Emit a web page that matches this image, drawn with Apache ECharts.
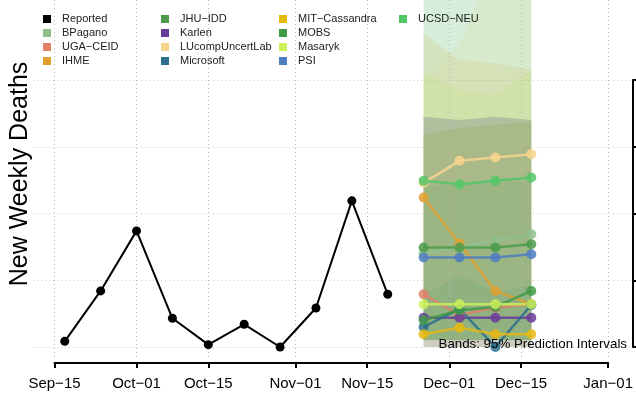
<!DOCTYPE html>
<html>
<head>
<meta charset="utf-8">
<script src="https://cdn.jsdelivr.net/npm/echarts@6/dist/echarts.min.js"></script>
<style>html,body{margin:0;padding:0;background:#fff;}#c{width:636px;height:398px;}</style>
</head>
<body>
<div id="c"></div>
<script>
// ---------- data ----------
const tickDates = ['2020-09-15','2020-10-01','2020-10-15','2020-11-01','2020-11-15','2020-12-01','2020-12-15','2021-01-01'];
const tickLabels = ['Sep\u221215','Oct\u221201','Oct\u221215','Nov\u221201','Nov\u221215','Dec\u221201','Dec\u221215','Jan\u221201'];
const yTicks = [0, 10, 20, 30, 40];

const reportedDates = ['2020-09-17','2020-09-24','2020-10-01','2020-10-08','2020-10-15','2020-10-22','2020-10-29','2020-11-05','2020-11-12','2020-11-19'];
const reportedValues = [0.85, 8.4, 17.4, 4.3, 0.35, 3.4, 0, 5.85, 21.9, 7.9];

const forecastDates = ['2020-11-26','2020-12-03','2020-12-10','2020-12-17'];

const modelNames = ['BPagano','UGA\u2212CEID','IHME','JHU\u2212IDD','Karlen','LUcompUncertLab','Microsoft','MIT\u2212Cassandra','MOBS','Masaryk','PSI','UCSD\u2212NEU'];
const modelColors = ['#8fbf8f','#df806a','#e0a030','#4b9b4b','#6a3d9a','#f7d58e','#2b6f8c','#e6b812','#3f9b48','#cbf058','#4f7cc2','#52c768'];

// point forecasts
const bpagano   = [14.0, 15.0, 15.9, 16.9];
const ugaCeid   = [7.9, 4.8, 5.9, 6.4];
const ihme      = [22.4, 15.5, 8.4, 6.4];
const jhuIdd    = [14.9, 14.9, 14.9, 15.4];
const karlen    = [4.4, 4.4, 4.4, 4.4];
const lucomp    = [24.6, 27.9, 28.4, 28.9];
const microsoft = [3.0, 5.7, 0, 6.3];
const mitCass   = [1.9, 2.9, 1.9, 1.9];
const mobs      = [4.0, 5.5, 6.0, 8.4];
const masaryk   = [6.4, 6.4, 6.4, 6.4];
const psi       = [13.4, 13.4, 13.4, 13.9];
const ucsdNeu   = [24.9, 24.4, 24.9, 25.4];

// 95% prediction interval lower / upper bounds
const bpaganoLo   = [1.05, 1.05, 1.05, 1.05], bpaganoHi   = [58, 58, 60, 60];
const ugaCeidLo   = [1.05, 1.05, 1.05, 1.05], ugaCeidHi   = [34.5, 34, 34.5, 34];
const ihmeLo      = [1.05, 1.05, 1.05, 1.05], ihmeHi      = [47, 43, 42.5, 41.5];
const jhuIddLo    = [1.05, 1.05, 1.05, 1.05], jhuIddHi    = [31.8, 32.8, 33.3, 33.7];
const karlenLo    = [0, 0, 0, 0],             karlenHi    = [34.5, 34, 34.5, 34];
const lucompLo    = [1.05, 1.05, 1.05, 1.05], lucompHi    = [40, 45.5, 58, 65];
const microsoftLo = [0, 0, 0, 0],             microsoftHi = [7.8, 10.8, 8.2, 9.3];
const mitCassLo   = [0, 0, 0, 0],             mitCassHi   = [31.8, 32.8, 33.3, 33.7];
const mobsLo      = [1.05, 1.05, 1.05, 1.05], mobsHi      = [24, 24.6, 24.6, 25];
const masarykLo   = [1.05, 1.05, 1.05, 1.05], masarykHi   = [41.2, 38.5, 37.8, 41.5];
const psiLo       = [1.05, 1.05, 1.05, 1.05], psiHi       = [34.5, 34, 34.5, 34];
const ucsdNeuLo   = [1.05, 1.05, 1.05, 1.05], ucsdNeuHi   = [70, 70, 70, 70];

const points = [bpagano, ugaCeid, ihme, jhuIdd, karlen, lucomp, microsoft, mitCass, mobs, masaryk, psi, ucsdNeu];
const lows   = [bpaganoLo, ugaCeidLo, ihmeLo, jhuIddLo, karlenLo, lucompLo, microsoftLo, mitCassLo, mobsLo, masarykLo, psiLo, ucsdNeuLo];
const highs  = [bpaganoHi, ugaCeidHi, ihmeHi, jhuIddHi, karlenHi, lucompHi, microsoftHi, mitCassHi, mobsHi, masarykHi, psiHi, ucsdNeuHi];

const legendColumns = [
  ['Reported','BPagano','UGA\u2212CEID','IHME'],
  ['JHU\u2212IDD','Karlen','LUcompUncertLab','Microsoft'],
  ['MIT\u2212Cassandra','MOBS','Masaryk','PSI'],
  ['UCSD\u2212NEU']
];

// ---------- build ----------
const FONT = 'Liberation Sans, Arial, Helvetica, sans-serif';
const ts = (d) => Date.parse(d + 'T00:00:00Z');
const colorOf = {'Reported':'#000000'};
modelNames.forEach((n,i)=>colorOf[n]=modelColors[i]);
const tickTs = tickDates.map(ts);

const series = [];
// bands (polygon through library coordinates)
modelNames.forEach((n,i)=>{
  series.push({
    name: n+' band', type:'custom', xAxisIndex:0, yAxisIndex:0, z:1, silent:true,
    data: forecastDates.map((d,k)=>[ts(d), lows[i][k], highs[i][k]]),
    encode:{x:0, y:[1,2]},
    renderItem:(params, api)=>{
      if (params.dataIndex !== 0) return null;
      const top = [], bot = [];
      forecastDates.forEach((d,k)=>{
        top.push(api.coord([ts(d), highs[i][k]]));
        bot.push(api.coord([ts(d), lows[i][k]]));
      });
      const cs = params.coordSys;
      return {
        type:'polygon',
        shape:{points: top.concat(bot.reverse())},
        style:{fill: modelColors[i], opacity:0.15},
        clipPath:{type:'rect', shape:{x:cs.x, y:cs.y, width:cs.width, height:cs.height}}
      };
    }
  });
});
// reported
series.push({
  name:'Reported', type:'line', xAxisIndex:0, yAxisIndex:0,
  data: reportedDates.map((d,k)=>[ts(d), reportedValues[k]]),
  symbol:'circle', symbolSize:9, itemStyle:{color:'#000'}, lineStyle:{color:'#000', width:2}, z:5
});
// forecast lines
modelNames.forEach((n,i)=>{
  series.push({
    name:n, type:'line', xAxisIndex:0, yAxisIndex:0,
    data: forecastDates.map((d,k)=>[ts(d), points[i][k]]),
    symbol:'circle', symbolSize:10,
    itemStyle:{color:modelColors[i], opacity:0.85},
    lineStyle:{color:modelColors[i], width:2.5, opacity:0.85}, z:5
  });
});

const legends = legendColumns.map((col,ci)=>({
  orient:'vertical', left:[43,161,279,399][ci], top:12, padding:0,
  icon:'rect', itemWidth:8, itemHeight:8, itemGap:0,
  textStyle:{fontSize:11, color:'#222', fontFamily:FONT, lineHeight:14, padding:[0,0,0,6]},
  data: col.map(n=>({name:n, itemStyle:{color:colorOf[n], opacity:1}})),
  selectedMode:false
}));

const option = {
  animation:false,
  backgroundColor:'#fff',
  grid:[
    {left:54.5, right:24.2, top:0, bottom:41, containLabel:false},
    {left:33, right:3, top:80, height:267, containLabel:false}
  ],
  xAxis:[
    {type:'value', gridIndex:0, min:tickTs[0], max:tickTs[tickTs.length-1], offset:6, z:3,
     axisLine:{show:true, onZero:false, lineStyle:{color:'#000', width:2}},
     axisTick:{show:true, length:5, lineStyle:{color:'#000', width:2}, customValues:tickTs},
     axisLabel:{show:true, customValues:tickTs, margin:13, fontSize:15, color:'#000', fontFamily:FONT,
       formatter:(v)=>{ let best=0; tickTs.forEach((t,i)=>{ if(Math.abs(t-v)<Math.abs(tickTs[best]-v)) best=i; }); return tickLabels[best]; }},
     splitLine:{show:true, lineStyle:{color:'#b8b8b8', type:[1,3], width:1}}},
    {type:'value', gridIndex:1, min:0, max:1, show:false}
  ],
  yAxis:[
    {type:'value', gridIndex:0, min:-1.5, max:52, show:false, splitLine:{show:false}},
    {type:'value', gridIndex:1, position:'right', min:yTicks[0], max:yTicks[yTicks.length-1], interval:10,
     axisLine:{show:true, onZero:false, lineStyle:{color:'#000', width:2}},
     axisTick:{show:true, inside:false, length:5, lineStyle:{color:'#000', width:2}},
     axisLabel:{show:false},
     splitLine:{show:true, lineStyle:{color:'#c8c8c8', type:[1,3], width:1}}}
  ],
  legend: legends,
  graphic:[
    {type:'text', x:20, y:174, rotation:Math.PI/2, z:10,
     style:{text:'New Weekly Deaths', font:'25px '+FONT, fill:'#000', align:'center', verticalAlign:'middle'}},
    {type:'text', right:9, top:338, z:10,
     style:{text:'Bands: 95% Prediction Intervals', font:'13.3px '+FONT, fill:'#000'}}
  ],
  series: series
};
const chart = echarts.init(document.getElementById('c'), null, {renderer:'canvas'});
chart.setOption(option);
</script>
</body>
</html>
